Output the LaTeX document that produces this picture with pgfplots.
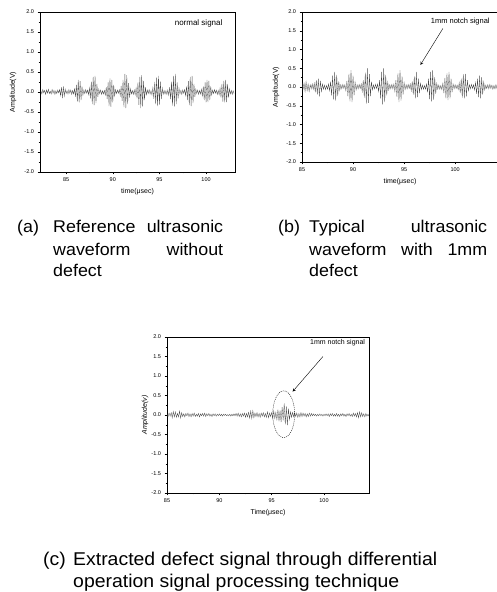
\documentclass[border=0pt]{standalone}
\usepackage{pgfplots}
\pgfplotsset{compat=1.18}
\usepackage{fontspec}
\setmainfont{Liberation Sans}
\newfontfamily\capfont[FakeStretch=1.05]{Liberation Sans}

\pgfplotsset{
  wave/.style={
    scale only axis, axis line style={line width=0.5pt},
    ymin=-2, ymax=2,
    ytick={-2,-1.5,...,2},
    xtick={85,90,95,100},
    minor x tick num=1, minor y tick num=1,
    tick align=outside, xtick pos=bottom, ytick pos=left,
    major tick length=2.5pt, minor tick length=1.5pt,
    tick style={black, line width=0.4pt},
    yticklabel style={/pgf/number format/.cd, fixed, fixed zerofill, precision=1, assume math mode=true},
    xticklabel style={/pgf/number format/assume math mode=true},
    ticklabel style={font=\fontsize{5.5}{6}\selectfont},
    label style={font=\fontsize{7}{8}\selectfont},
    xlabel style={at={(axis description cs:0.5,0)}, anchor=center, yshift=-20pt},
  },
  sig/.style={black!72, line width=0.3pt},
}

\begin{document}
\begin{tikzpicture}[x=1pt,y=1pt]
\path[use as bounding box] (0,0) rectangle (496,592);

% (a) reference waveform
\begin{axis}[wave, at={(40pt,420pt)}, anchor=south west, width=195pt, height=160pt,
  xmin=82.2, xmax=103.1, xlabel={time(μsec)}, ylabel={Amplitude(V)},
  ylabel style={at={([xshift=-27pt]axis description cs:0,0.5)}, anchor=center}]
\addplot[sig] coordinates {
(82.3,0.03)(82.4,-0.05)(82.5,0.06)(82.6,-0.02)(82.7,0.04)(82.8,-0.06)(82.9,0.05)(83.0,-0.03)(83.1,0.07)(83.2,-0.04)
(83.3,0.02)(83.4,-0.05)(83.5,0.06)(83.6,-0.03)(83.7,0.04)(83.8,-0.06)(83.9,0.03)(84.0,-0.04)(84.1,0.05)(84.2,-0.02)
(84.3,0.06)(84.4,-0.09)(84.5,0.12)(84.6,-0.15)(84.7,0.14)(84.8,-0.1)(84.9,0.07)(85.0,-0.04)(85.1,0.03)(85.2,-0.05)
(85.3,0.06)(85.4,-0.03)(85.5,0.05)(85.6,-0.06)(85.7,0.04)(85.8,-0.05)(85.9,0.08)(86.0,-0.12)(86.1,0.18)(86.2,-0.24)
(86.3,0.3)(86.4,-0.26)(86.5,0.27)(86.6,-0.2)(86.7,0.14)(86.8,-0.08)(86.9,0.05)(87.0,-0.04)(87.1,0.06)(87.2,-0.03)
(87.3,0.05)(87.4,-0.07)(87.5,0.1)(87.6,-0.16)(87.7,0.26)(87.8,-0.3)(87.9,0.38)(88.0,-0.33)(88.1,0.4)(88.2,-0.28)
(88.3,0.2)(88.4,-0.12)(88.5,0.07)(88.6,-0.04)(88.7,0.05)(88.8,-0.06)(88.9,0.03)(89.0,-0.05)(89.1,0.04)(89.2,-0.08)
(89.3,0.12)(89.4,-0.18)(89.5,0.24)(89.6,-0.35)(89.7,0.34)(89.8,-0.37)(89.9,0.3)(90.0,-0.26)(90.1,0.18)(90.2,-0.1)
(90.3,0.06)(90.4,-0.04)(90.5,0.05)(90.6,-0.03)(90.7,0.06)(90.8,-0.09)(90.9,0.15)(91.0,-0.22)(91.1,0.3)(91.2,-0.38)
(91.3,0.45)(91.4,-0.4)(91.5,0.42)(91.6,-0.3)(91.7,0.22)(91.8,-0.14)(91.9,0.08)(92.0,-0.05)(92.1,0.04)(92.2,-0.06)
(92.3,0.05)(92.4,-0.07)(92.5,0.1)(92.6,-0.16)(92.7,0.24)(92.8,-0.32)(92.9,0.38)(93.0,-0.4)(93.1,0.42)(93.2,-0.36)
(93.3,0.28)(93.4,-0.2)(93.5,0.12)(93.6,-0.07)(93.7,0.05)(93.8,-0.04)(93.9,0.06)(94.0,-0.05)(94.1,0.03)(94.2,-0.07)
(94.3,0.11)(94.4,-0.17)(94.5,0.25)(94.6,-0.3)(94.7,0.36)(94.8,-0.35)(94.9,0.4)(95.0,-0.32)(95.1,0.26)(95.2,-0.18)
(95.3,0.1)(95.4,-0.06)(95.5,0.04)(95.6,-0.05)(95.7,0.03)(95.8,-0.06)(95.9,0.05)(96.0,-0.08)(96.1,0.12)(96.2,-0.18)
(96.3,0.26)(96.4,-0.34)(96.5,0.4)(96.6,-0.36)(96.7,0.45)(96.8,-0.3)(96.9,0.24)(97.0,-0.16)(97.1,0.09)(97.2,-0.05)
(97.3,0.04)(97.4,-0.06)(97.5,0.05)(97.6,-0.03)(97.7,0.06)(97.8,-0.09)(97.9,0.14)(98.0,-0.2)(98.1,0.27)(98.2,-0.33)
(98.3,0.38)(98.4,-0.35)(98.5,0.4)(98.6,-0.28)(98.7,0.2)(98.8,-0.12)(98.9,0.07)(99.0,-0.04)(99.1,0.05)(99.2,-0.06)
(99.3,0.04)(99.4,-0.05)(99.5,0.07)(99.6,-0.1)(99.7,0.14)(99.8,-0.2)(99.9,0.24)(100.0,-0.26)(100.1,0.3)(100.2,-0.25)
(100.3,0.28)(100.4,-0.2)(100.5,0.14)(100.6,-0.08)(100.7,0.05)(100.8,-0.04)(100.9,0.06)(101.0,-0.03)(101.1,0.05)(101.2,-0.06)
(101.3,0.04)(101.4,-0.07)(101.5,0.1)(101.6,-0.14)(101.7,0.2)(101.8,-0.24)(101.9,0.28)(102.0,-0.26)(102.1,0.3)(102.2,-0.25)
(102.3,0.2)(102.4,-0.14)(102.5,0.08)(102.6,-0.05)(102.7,0.04)(102.8,-0.06)(102.9,0.03)(103.0,-0.04)
};
\node[font=\fontsize{8}{9}\selectfont] at (axis cs:99.2,1.72) {normal signal};
\end{axis}

% (b) waveform with 1mm defect
\begin{axis}[wave, at={(302pt,430pt)}, anchor=south west, width=196pt, height=150pt,
  xmin=85, xmax=104.2, xlabel={time(μsec)}, ylabel={Amplitude(V)},
  ylabel style={at={([xshift=-26pt]axis description cs:0,0.5)}, anchor=center}]
\addplot[sig] coordinates {
(85.0,0.12)(85.1,-0.06)(85.2,0.1)(85.3,-0.12)(85.4,0.14)(85.5,-0.1)(85.6,0.08)(85.7,-0.12)(85.8,0.06)(85.9,-0.05)
(86.0,0.08)(86.1,-0.06)(86.2,0.1)(86.3,-0.14)(86.4,0.18)(86.5,-0.2)(86.6,0.22)(86.7,-0.25)(86.8,0.16)(86.9,-0.12)
(87.0,0.08)(87.1,-0.06)(87.2,0.05)(87.3,-0.07)(87.4,0.04)(87.5,-0.06)(87.6,0.08)(87.7,-0.1)(87.8,0.14)(87.9,-0.22)
(88.0,0.3)(88.1,-0.33)(88.2,0.4)(88.3,-0.36)(88.4,0.32)(88.5,-0.24)(88.6,0.15)(88.7,-0.09)(88.8,0.06)(88.9,-0.05)
(89.0,0.07)(89.1,-0.04)(89.2,0.06)(89.3,-0.1)(89.4,0.16)(89.5,-0.25)(89.6,0.35)(89.7,-0.38)(89.8,0.45)(89.9,-0.4)
(90.0,0.3)(90.1,-0.22)(90.2,0.13)(90.3,-0.08)(90.4,0.06)(90.5,-0.05)(90.6,0.07)(90.7,-0.04)(90.8,0.08)(90.9,-0.12)
(91.0,0.18)(91.1,-0.28)(91.2,0.38)(91.3,-0.44)(91.4,0.5)(91.5,-0.42)(91.6,0.34)(91.7,-0.24)(91.8,0.14)(91.9,-0.08)
(92.0,0.06)(92.1,-0.05)(92.2,0.07)(92.3,-0.04)(92.4,0.08)(92.5,-0.12)(92.6,0.18)(92.7,-0.3)(92.8,0.4)(92.9,-0.46)
(93.0,0.5)(93.1,-0.4)(93.2,0.32)(93.3,-0.22)(93.4,0.13)(93.5,-0.08)(93.6,0.06)(93.7,-0.05)(93.8,0.07)(93.9,-0.05)
(94.0,0.08)(94.1,-0.12)(94.2,0.18)(94.3,-0.26)(94.4,0.36)(94.5,-0.4)(94.6,0.45)(94.7,-0.36)(94.8,0.28)(94.9,-0.2)
(95.0,0.12)(95.1,-0.07)(95.2,0.06)(95.3,-0.05)(95.4,0.07)(95.5,-0.04)(95.6,0.08)(95.7,-0.1)(95.8,0.15)(95.9,-0.2)
(96.0,0.28)(96.1,-0.3)(96.2,0.4)(96.3,-0.27)(96.4,0.22)(96.5,-0.16)(96.6,0.1)(96.7,-0.07)(96.8,0.05)(96.9,-0.06)
(97.0,0.04)(97.1,-0.06)(97.2,0.08)(97.3,-0.14)(97.4,0.22)(97.5,-0.32)(97.6,0.4)(97.7,-0.38)(97.8,0.45)(97.9,-0.34)
(98.0,0.26)(98.1,-0.18)(98.2,0.1)(98.3,-0.06)(98.4,0.05)(98.5,-0.06)(98.6,0.04)(98.7,-0.07)(98.8,0.1)(98.9,-0.16)
(99.0,0.24)(99.1,-0.3)(99.2,0.36)(99.3,-0.35)(99.4,0.4)(99.5,-0.3)(99.6,0.22)(99.7,-0.14)(99.8,0.08)(99.9,-0.05)
(100.0,0.06)(100.1,-0.04)(100.2,0.05)(100.3,-0.07)(100.4,0.11)(100.5,-0.16)(100.6,0.22)(100.7,-0.28)(100.8,0.34)(100.9,-0.3)
(101.0,0.35)(101.1,-0.25)(101.2,0.18)(101.3,-0.1)(101.4,0.06)(101.5,-0.05)(101.6,0.07)(101.7,-0.04)(101.8,0.06)(101.9,-0.08)
(102.0,0.12)(102.1,-0.18)(102.2,0.22)(102.3,-0.27)(102.4,0.3)(102.5,-0.3)(102.6,0.26)(102.7,-0.2)(102.8,0.14)(102.9,-0.08)
(103.0,0.05)(103.1,-0.04)(103.2,0.06)(103.3,-0.05)(103.4,0.07)(103.5,-0.04)(103.6,0.05)(103.7,-0.06)(103.8,0.04)(103.9,-0.05)
(104.0,0.06)(104.1,-0.04)(104.2,0.05)
};
\node[font=\fontsize{7.5}{9}\selectfont] at (axis cs:100.5,1.74) {1mm notch signal};
\draw[-stealth, line width=0.4pt] (axis cs:98.8,1.56) -- (axis cs:96.6,0.59);
\end{axis}

% (c) extracted defect signal
\begin{axis}[wave, at={(167pt,99pt)}, anchor=south west, width=202pt, height=156pt,
  xmin=85, xmax=104.3, xlabel={Time(μsec)}, ylabel={\itshape Amplitude(v)},
  ylabel style={at={([xshift=-22pt]axis description cs:0,0.5)}, anchor=center}]
\addplot[sig] coordinates {
(85.0,0.02)(85.1,-0.04)(85.2,0.05)(85.3,-0.03)(85.4,0.06)(85.5,-0.07)(85.6,0.09)(85.7,-0.05)(85.8,0.08)(85.9,-0.06)
(86.0,0.04)(86.1,-0.05)(86.2,0.1)(86.3,-0.08)(86.4,0.06)(86.5,-0.04)(86.6,0.03)(86.7,-0.05)(86.8,0.04)(86.9,-0.02)
(87.0,0.05)(87.1,-0.04)(87.2,0.03)(87.3,-0.05)(87.4,0.04)(87.5,-0.03)(87.6,0.05)(87.7,-0.04)(87.8,0.02)(87.9,-0.03)
(88.0,0.04)(88.1,-0.05)(88.2,0.03)(88.3,-0.02)(88.4,0.04)(88.5,-0.03)(88.6,0.05)(88.7,-0.04)(88.8,0.03)(88.9,-0.02)
(89.0,0.04)(89.1,-0.03)(89.2,0.02)(89.3,-0.04)(89.4,0.03)(89.5,-0.02)(89.6,0.03)(89.7,-0.03)(89.8,0.02)(89.9,-0.02)
(90.0,0.03)(90.1,-0.02)(90.2,0.02)(90.3,-0.03)(90.4,0.02)(90.5,-0.01)(90.6,0.02)(90.7,-0.02)(90.8,0.01)(90.9,-0.02)
(91.0,0.02)(91.1,-0.03)(91.2,0.02)(91.3,-0.02)(91.4,0.03)(91.5,-0.02)(91.6,0.04)(91.7,-0.03)(91.8,0.05)(91.9,-0.04)
(92.0,0.03)(92.1,-0.05)(92.2,0.04)(92.3,-0.03)(92.4,0.05)(92.5,-0.06)(92.6,0.04)(92.7,-0.05)(92.8,0.07)(92.9,-0.08)
(93.0,0.1)(93.1,-0.09)(93.2,0.11)(93.3,-0.07)(93.4,0.05)(93.5,-0.04)(93.6,0.06)(93.7,-0.05)(93.8,0.04)(93.9,-0.06)
(94.0,0.05)(94.1,-0.03)(94.2,0.06)(94.3,-0.05)(94.4,0.04)(94.5,-0.06)(94.6,0.08)(94.7,-0.07)(94.8,0.05)(94.9,-0.04)
(95.0,0.06)(95.1,-0.08)(95.2,0.1)(95.3,-0.09)(95.4,0.07)(95.5,-0.12)(95.6,0.14)(95.7,-0.16)(95.8,0.12)(95.9,-0.18)
(96.0,0.2)(96.1,-0.14)(96.2,0.3)(96.3,-0.24)(96.4,0.22)(96.5,-0.26)(96.6,0.16)(96.7,-0.12)(96.8,0.08)(96.9,-0.06)
(97.0,0.07)(97.1,-0.05)(97.2,0.06)(97.3,-0.04)(97.4,0.05)(97.5,-0.06)(97.6,0.04)(97.7,-0.05)(97.8,0.06)(97.9,-0.04)
(98.0,0.05)(98.1,-0.03)(98.2,0.04)(98.3,-0.05)(98.4,0.03)(98.5,-0.04)(98.6,0.05)(98.7,-0.03)(98.8,0.04)(98.9,-0.02)
(99.0,0.03)(99.1,-0.02)(99.2,0.02)(99.3,-0.03)(99.4,0.02)(99.5,-0.02)(99.6,0.03)(99.7,-0.02)(99.8,0.02)(99.9,-0.03)
(100.0,0.02)(100.1,-0.02)(100.2,0.03)(100.3,-0.02)(100.4,0.03)(100.5,-0.04)(100.6,0.03)(100.7,-0.02)(100.8,0.04)(100.9,-0.03)
(101.0,0.02)(101.1,-0.03)(101.2,0.04)(101.3,-0.03)(101.4,0.02)(101.5,-0.04)(101.6,0.03)(101.7,-0.02)(101.8,0.04)(101.9,-0.03)
(102.0,0.02)(102.1,-0.04)(102.2,0.03)(102.3,-0.02)(102.4,0.04)(102.5,-0.03)(102.6,0.02)(102.7,-0.04)(102.8,0.05)(102.9,-0.03)
(103.0,0.04)(103.1,-0.05)(103.2,0.06)(103.3,-0.07)(103.4,0.08)(103.5,-0.05)(103.6,0.06)(103.7,-0.04)(103.8,0.03)(103.9,-0.05)
(104.0,0.04)(104.1,-0.03)(104.2,0.02)(104.3,-0.03)
};
\node[font=\fontsize{7}{8}\selectfont] at (axis cs:101.3,1.86) {1mm notch signal};
\draw[-stealth, line width=0.4pt] (axis cs:99.9,1.5) -- (axis cs:97.0,0.6);
\draw[line width=0.4pt, dash pattern=on 1pt off 1pt] (axis cs:96.15,0.02) ellipse [x radius=1.05, y radius=0.6];
\end{axis}

% captions
\begin{scope}[every node/.style={inner sep=0pt, anchor=base west}]
\node[font=\capfont\fontsize{17}{20}\selectfont] at (17,359) {(a)};
\node[font=\capfont\fontsize{17}{20}\selectfont] at (53,359) {\makebox[170pt][s]{Reference ultrasonic}};
\node[font=\capfont\fontsize{17}{20}\selectfont] at (53,336.5) {\makebox[170pt][s]{waveform without}};
\node[font=\capfont\fontsize{17}{20}\selectfont] at (53,315) {defect};
\node[font=\capfont\fontsize{17}{20}\selectfont] at (278,359) {(b)};
\node[font=\capfont\fontsize{17}{20}\selectfont] at (309,359) {\makebox[178pt][s]{Typical ultrasonic}};
\node[font=\capfont\fontsize{17}{20}\selectfont] at (309,336.5) {\makebox[178pt][s]{waveform with 1mm}};
\node[font=\capfont\fontsize{17}{20}\selectfont] at (309,315) {defect};
\node[font=\capfont\fontsize{18.5}{22}\selectfont] at (43,27) {(c)};
\node[font=\capfont\fontsize{18.5}{22}\selectfont] at (73,27) {\makebox[364pt][s]{Extracted defect signal through differential}};
\node[font=\capfont\fontsize{18.5}{22}\selectfont] at (73,5) {operation signal processing technique};
\end{scope}
\end{tikzpicture}
\end{document}
